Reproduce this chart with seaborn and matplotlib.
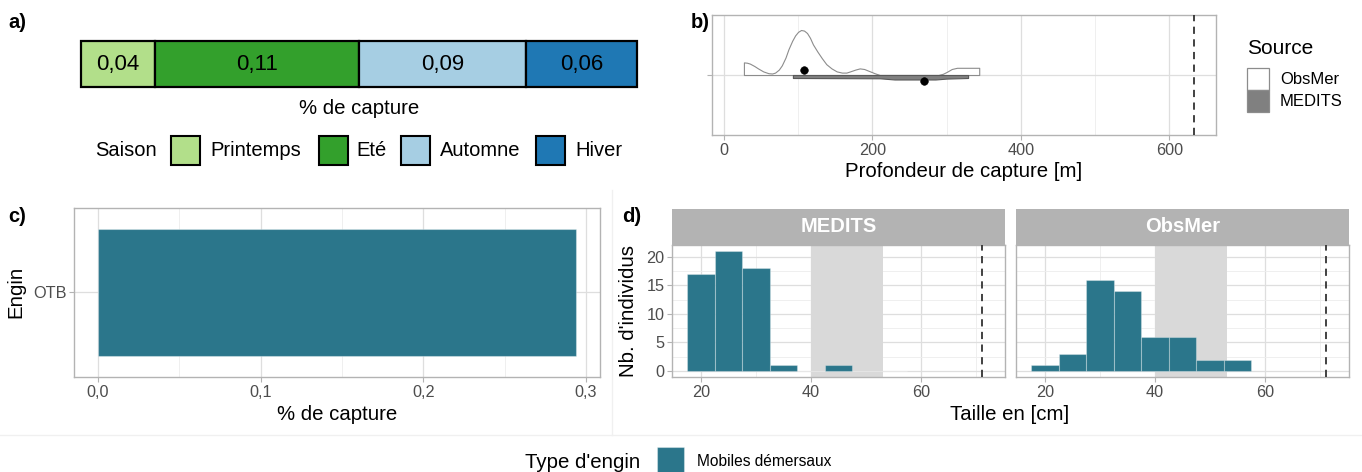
import numpy as np
import pandas as pd
import matplotlib
matplotlib.use("Agg")
import matplotlib.pyplot as plt
import seaborn as sns
from matplotlib.patches import Rectangle
from matplotlib.lines import Line2D
from matplotlib.ticker import FixedLocator, FuncFormatter

# ---------------- data ----------------
saisons = ["Printemps", "Eté", "Automne", "Hiver"]
capture_saison = [0.04, 0.11, 0.09, 0.06]
couleurs_saison = ["#b2df8a", "#33a02c", "#a6cee3", "#1f78b4"]

engins = ["OTB"]
capture_engin = [0.294]
type_engin = ["Mobiles démersaux"]
couleur_engin = "#2b768b"

sources = ["ObsMer", "MEDITS"]
# density outline (depth in m, relative density)
obsmer_prof = [27, 27, 31, 35, 41, 46, 53, 60, 65, 69, 74, 78, 83, 87, 92, 96, 100,
               104, 108, 112, 116, 120, 126, 132, 138, 145, 152, 159, 165, 170,
               177, 183, 189, 195, 203, 210, 289, 295, 300, 307, 314, 344]
obsmer_dens = [0.0, 0.21, 0.205, 0.19, 0.15, 0.11, 0.06, 0.03, 0.025, 0.04, 0.09,
               0.16, 0.29, 0.43, 0.57, 0.66, 0.72, 0.75, 0.74, 0.70, 0.62, 0.51,
               0.39, 0.28, 0.18, 0.11, 0.06, 0.04, 0.04, 0.06, 0.09, 0.11, 0.10,
               0.07, 0.03, 0.0, 0.0, 0.02, 0.05, 0.10, 0.12, 0.12]
medits_prof = [93, 210, 230, 285, 300, 329]
medits_dens = [-0.05, -0.055, -0.075, -0.075, -0.06, -0.05]
mediane_prof = [108, 270]
mediane_pos = [0.083, -0.095]
prof_max = 634

taille_centres = [20, 25, 30, 35, 40, 45, 50, 55]
medits_n = [17, 21, 18, 1, 0, 1, 0, 0]
obsmer_n = [1, 3, 16, 14, 6, 6, 2, 2]
taille_zone = [40, 53]
taille_max = 71

# ---------------- figure ----------------
plt.rcParams['font.family'] = ['Liberation Sans', 'DejaVu Sans']
W, H = 1362, 472
fig = plt.figure(figsize=(W / 100, H / 100), dpi=100)
fig.patch.set_facecolor("white")

TITLE = 14.7
LEG = 14.5
TICK = 11.7


def add_ax(x0, y0, x1, y1):
    return fig.add_axes([x0 / W, 1 - y1 / H, (x1 - x0) / W, (y1 - y0) / H])


def ftext(x, y, s, **kw):
    kw.setdefault("va", "center")
    return fig.text(x / W, 1 - y / H, s, **kw)


def frect(x, y, w, h, **kw):
    r = Rectangle((x / W, 1 - (y + h) / H), w / W, h / H,
                  transform=fig.transFigure, **kw)
    fig.add_artist(r)
    return r


def comma(v, pos=None):
    return f"{v:.1f}".replace(".", ",")


GRID_MAJ = "#dedede"
GRID_MIN = "#ededed"
BORDER = "#b3b3b3"
TICKC = "#4d4d4d"


def style(ax):
    ax.set_facecolor("white")
    for s in ax.spines.values():
        s.set_color(BORDER)
        s.set_linewidth(1.0)
    ax.grid(which="major", color=GRID_MAJ, lw=0.9)
    ax.grid(which="minor", color=GRID_MIN, lw=0.6)
    ax.set_axisbelow(True)
    ax.tick_params(which="major", length=3.5, color=BORDER, width=0.8,
                   labelsize=TICK, labelcolor=TICKC, pad=2)
    ax.tick_params(which="minor", length=0)
    ax.set_xlabel("")
    ax.set_ylabel("")


# separators
fig.add_artist(Line2D([0, 1], [1 - 435 / H, 1 - 435 / H], transform=fig.transFigure,
                      color="#f0f0f0", lw=1))
fig.add_artist(Line2D([612 / W, 612 / W], [1 - 190 / H, 1 - 435 / H],
                      transform=fig.transFigure, color="#f0f0f0", lw=1))

# ---------------- a) ----------------
ax_a = add_ax(81, 41, 637, 87)
lefts = np.concatenate([[0], np.cumsum(capture_saison)[:-1]])
for v, l, c in zip(capture_saison, lefts, couleurs_saison):
    ax_a.barh(0, v, left=l, height=1, color=c, edgecolor="black", lw=1.6, clip_on=False)
    ax_a.text(l + v / 2, 0, f"{v:.2f}".replace(".", ","), ha="center", va="center",
              fontsize=16)
ax_a.set_xlim(0, sum(capture_saison))
ax_a.set_ylim(-0.5, 0.5)
ax_a.axis("off")
ftext(359, 108, "% de capture", ha="center", fontsize=TITLE)
ftext(95, 151, "Saison", ha="left", fontsize=LEG)
key_x = [171, 319, 401, 536]
lab_x = [210, 356, 440, 575]
for s, c, kx, lx in zip(saisons, couleurs_saison, key_x, lab_x):
    frect(kx, 136, 29, 29, facecolor=c, edgecolor="black", lw=1.5)
    ftext(lx, 151, s, ha="left", fontsize=LEG)
ftext(8, 22, "a)", ha="left", fontsize=14.5, fontweight="bold")

# ---------------- b) ----------------
ax_b = add_ax(712, 15, 1216, 135)
style(ax_b)
ax_b.fill_between(obsmer_prof, 0, obsmer_dens, facecolor="white", edgecolor="#8c8c8c",
                  lw=0.8, zorder=2)
ax_b.fill_between(medits_prof, 0, medits_dens, facecolor="#808080", edgecolor="#595959",
                  lw=0.8, zorder=3)
sns.scatterplot(x=mediane_prof, y=mediane_pos, color="black", s=30, edgecolor="black",
                ax=ax_b, zorder=4, legend=False)
ax_b.axvline(prof_max, color="#333333", lw=1.3, ls=(0, (4, 3)), zorder=4)
ax_b.set_xlim(-16, 663)
ax_b.set_ylim(-1, 1)
ax_b.xaxis.set_major_locator(FixedLocator([0, 200, 400, 600]))
ax_b.xaxis.set_minor_locator(FixedLocator([100, 300, 500]))
ax_b.set_yticks([0])
ax_b.set_yticklabels([""])
ax_b.set_xlabel("")
ax_b.set_ylabel("")
ftext(964, 172, "Profondeur de capture [m]", ha="center", fontsize=TITLE)
ftext(1247, 48, "Source", ha="left", fontsize=15)
frect(1247, 68, 22, 22, facecolor="white", edgecolor="#8c8c8c", lw=0.9)
frect(1247, 90, 22, 22, facecolor="#808080", edgecolor="#8c8c8c", lw=0.9)
ftext(1280, 79, sources[0], ha="left", fontsize=12)
ftext(1280, 101, sources[1], ha="left", fontsize=12)
ftext(691, 22, "b)", ha="left", fontsize=14.5, fontweight="bold")

# ---------------- c) ----------------
ax_c = add_ax(74, 208, 600, 377)
df_c = pd.DataFrame({"Engin": engins, "capture": capture_engin, "type": type_engin})
sns.barplot(data=df_c, x="capture", y="Engin", orient="h", color=couleur_engin,
            width=0.9, saturation=1, edgecolor=(1, 1, 1, 0.35), linewidth=0.8, ax=ax_c)
style(ax_c)
ax_c.set_xlim(-0.0147, 0.3087)
ax_c.set_ylim(0.6, -0.6)
ax_c.xaxis.set_major_locator(FixedLocator([0, 0.1, 0.2, 0.3]))
ax_c.xaxis.set_minor_locator(FixedLocator([0.05, 0.15, 0.25]))
ax_c.xaxis.set_major_formatter(FuncFormatter(comma))
ftext(337, 414, "% de capture", ha="center", fontsize=TITLE)
ftext(16, 292, "Engin", ha="center", rotation=90, fontsize=TITLE)
ftext(8, 216, "c)", ha="left", fontsize=14.5, fontweight="bold")

# ---------------- d) ----------------
panels = [("MEDITS", medits_n, 672, 1005), ("ObsMer", obsmer_n, 1016, 1349)]
for i, (name, counts, x0, x1) in enumerate(panels):
    ax = add_ax(x0, 245, x1, 377)
    df = pd.DataFrame({"taille": np.array(taille_centres, dtype=float),
                       "n": np.array(counts, dtype=float)})
    ax.axvspan(taille_zone[0], taille_zone[1], color="#d9d9d9", lw=0, zorder=1)
    sns.histplot(data=df, x="taille", weights="n", binwidth=5,
                 binrange=(taille_centres[0] - 2.5, taille_centres[-1] + 2.5),
                 color=couleur_engin, alpha=1, edgecolor=(1, 1, 1, 0.3),
                 linewidth=0.8, ax=ax, zorder=2)
    style(ax)
    ax.axvline(taille_max, color="#333333", lw=1.3, ls=(0, (4, 3)), zorder=3)
    ax.set_xlim(14.75, 75.25)
    ax.set_ylim(-1.05, 22.05)
    ax.xaxis.set_major_locator(FixedLocator([20, 40, 60]))
    ax.xaxis.set_minor_locator(FixedLocator([30, 50, 70]))
    ax.yaxis.set_major_locator(FixedLocator([0, 5, 10, 15, 20]))
    ax.yaxis.set_minor_locator(FixedLocator([2.5, 7.5, 12.5, 17.5]))
    if i == 1:
        ax.tick_params(axis="y", which="major", length=0, labelleft=False)
    # strip
    sa = add_ax(x0, 209, x1, 245)
    sa.set_facecolor("#b3b3b3")
    sa.set_xticks([])
    sa.set_yticks([])
    for s in sa.spines.values():
        s.set_visible(False)
    sa.text(0.5, 0.5, name, transform=sa.transAxes, ha="center", va="center",
            color="white", fontsize=14.5, fontweight="bold")

ftext(629, 311, "Nb. d'individus", ha="center", rotation=90, fontsize=TITLE)
ftext(1010, 414, "Taille en [cm]", ha="center", fontsize=TITLE)
ftext(622, 216, "d)", ha="left", fontsize=14.5, fontweight="bold")

# bottom legend
ftext(525, 462, "Type d'engin", ha="left", fontsize=TITLE)
frect(657, 447, 27, 27, facecolor=couleur_engin, edgecolor=(1, 1, 1, 0.35), lw=0.8)
ftext(697, 462, type_engin[0], ha="left", fontsize=11.2)

fig.savefig("out.png", dpi=100, facecolor="white")
